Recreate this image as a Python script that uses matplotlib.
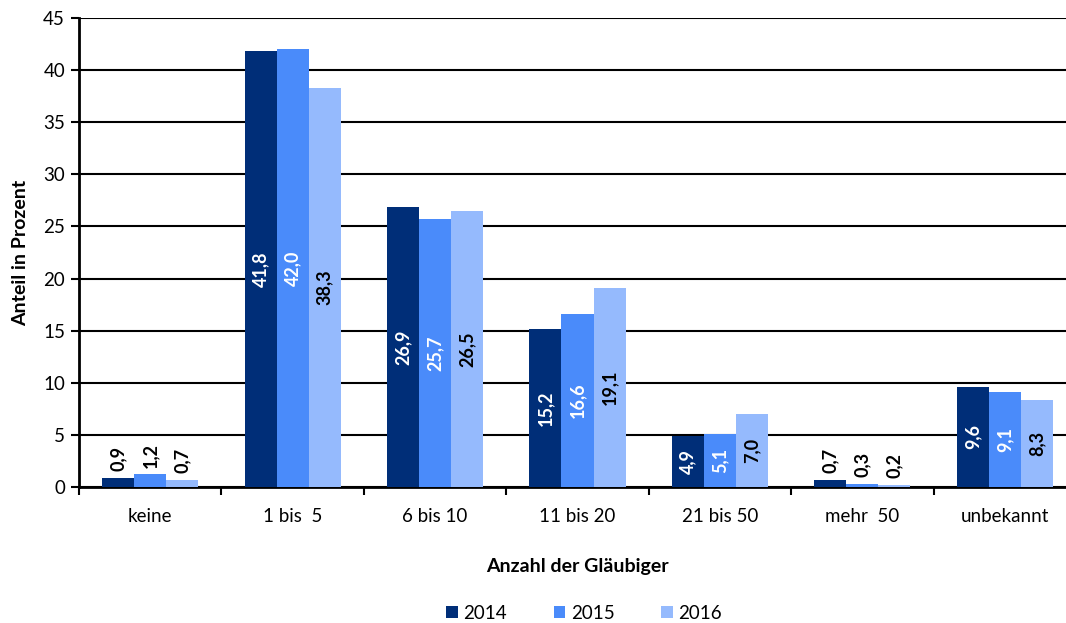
import numpy as np
import matplotlib
matplotlib.use("Agg")
import matplotlib.pyplot as plt

plt.rcParams['font.family'] = ['Lato', 'DejaVu Sans']

categories = ['keine', '1 bis  5', '6 bis 10', '11 bis 20', '21 bis 50', 'mehr  50', 'unbekannt']
years = ['2014', '2015', '2016']
v2014 = [0.9, 41.8, 26.9, 15.2, 4.9, 0.7, 9.6]
v2015 = [1.2, 42.0, 25.7, 16.6, 5.1, 0.3, 9.1]
v2016 = [0.7, 38.3, 26.5, 19.1, 7.0, 0.2, 8.3]

colors = ['#002E78', '#4A8BFA', '#95BAFD']
label_colors = ['white', 'white', 'black']

fig = plt.figure(figsize=(10.66, 6.23), dpi=100)
ax = fig.add_axes([0.0741, 0.2183, 1.0094 - 0.0741, 0.9711 - 0.2183])

x = np.arange(len(categories))
w = 0.225
for i, (vals, col, lcol) in enumerate(zip([v2014, v2015, v2016], colors, label_colors)):
    pos = x + (i - 1) * w
    bars = ax.bar(pos, vals, width=w, color=col, label=years[i], zorder=3)
    for b, v in zip(bars, vals):
        txt = f'{v:.1f}'.replace('.', ',')
        cx = b.get_x() + b.get_width() / 2
        if v < 3:
            ax.annotate(txt, (cx, v), xytext=(0, 5), textcoords='offset points',
                        rotation=90, ha='center', va='bottom', fontsize=13,
                        fontweight='bold', color='black', zorder=4)
        else:
            ax.text(cx, v / 2, txt, rotation=90, ha='center', va='center',
                    fontsize=13, fontweight='bold', color=lcol, zorder=4)

ax.set_xlim(-0.5, len(categories) - 0.5)
ax.set_ylim(0, 45)
ax.set_yticks(range(0, 46, 5))
ax.yaxis.grid(True, color='black', linewidth=1.5, zorder=0)
ax.set_axisbelow(True)

ax.set_xticks(x)
ax.set_xticklabels(categories)
ax.set_xticks(np.arange(-0.5, len(categories), 1), minor=True)
ax.tick_params(axis='x', which='major', length=0, pad=15, labelsize=13.5)
ax.tick_params(axis='x', which='minor', length=6, width=1.5, direction='out')
ax.tick_params(axis='y', length=6, width=1.5, labelsize=13.5, pad=4)

for s in ['top', 'right']:
    ax.spines[s].set_visible(False)
for s in ['left', 'bottom']:
    ax.spines[s].set_linewidth(2)

ax.set_ylabel('Anteil in Prozent', fontsize=14, fontweight='bold', labelpad=10)
ax.set_xlabel('Anzahl der Gläubiger', fontsize=14, fontweight='bold', labelpad=24)

fig.legend(loc='center', bbox_to_anchor=(0.548, 0.016), ncol=3, frameon=False,
           fontsize=13.5, handlelength=0.6, handleheight=0.6, handletextpad=0.3,
           columnspacing=2.5)

fig.savefig('out.png', dpi=100)
